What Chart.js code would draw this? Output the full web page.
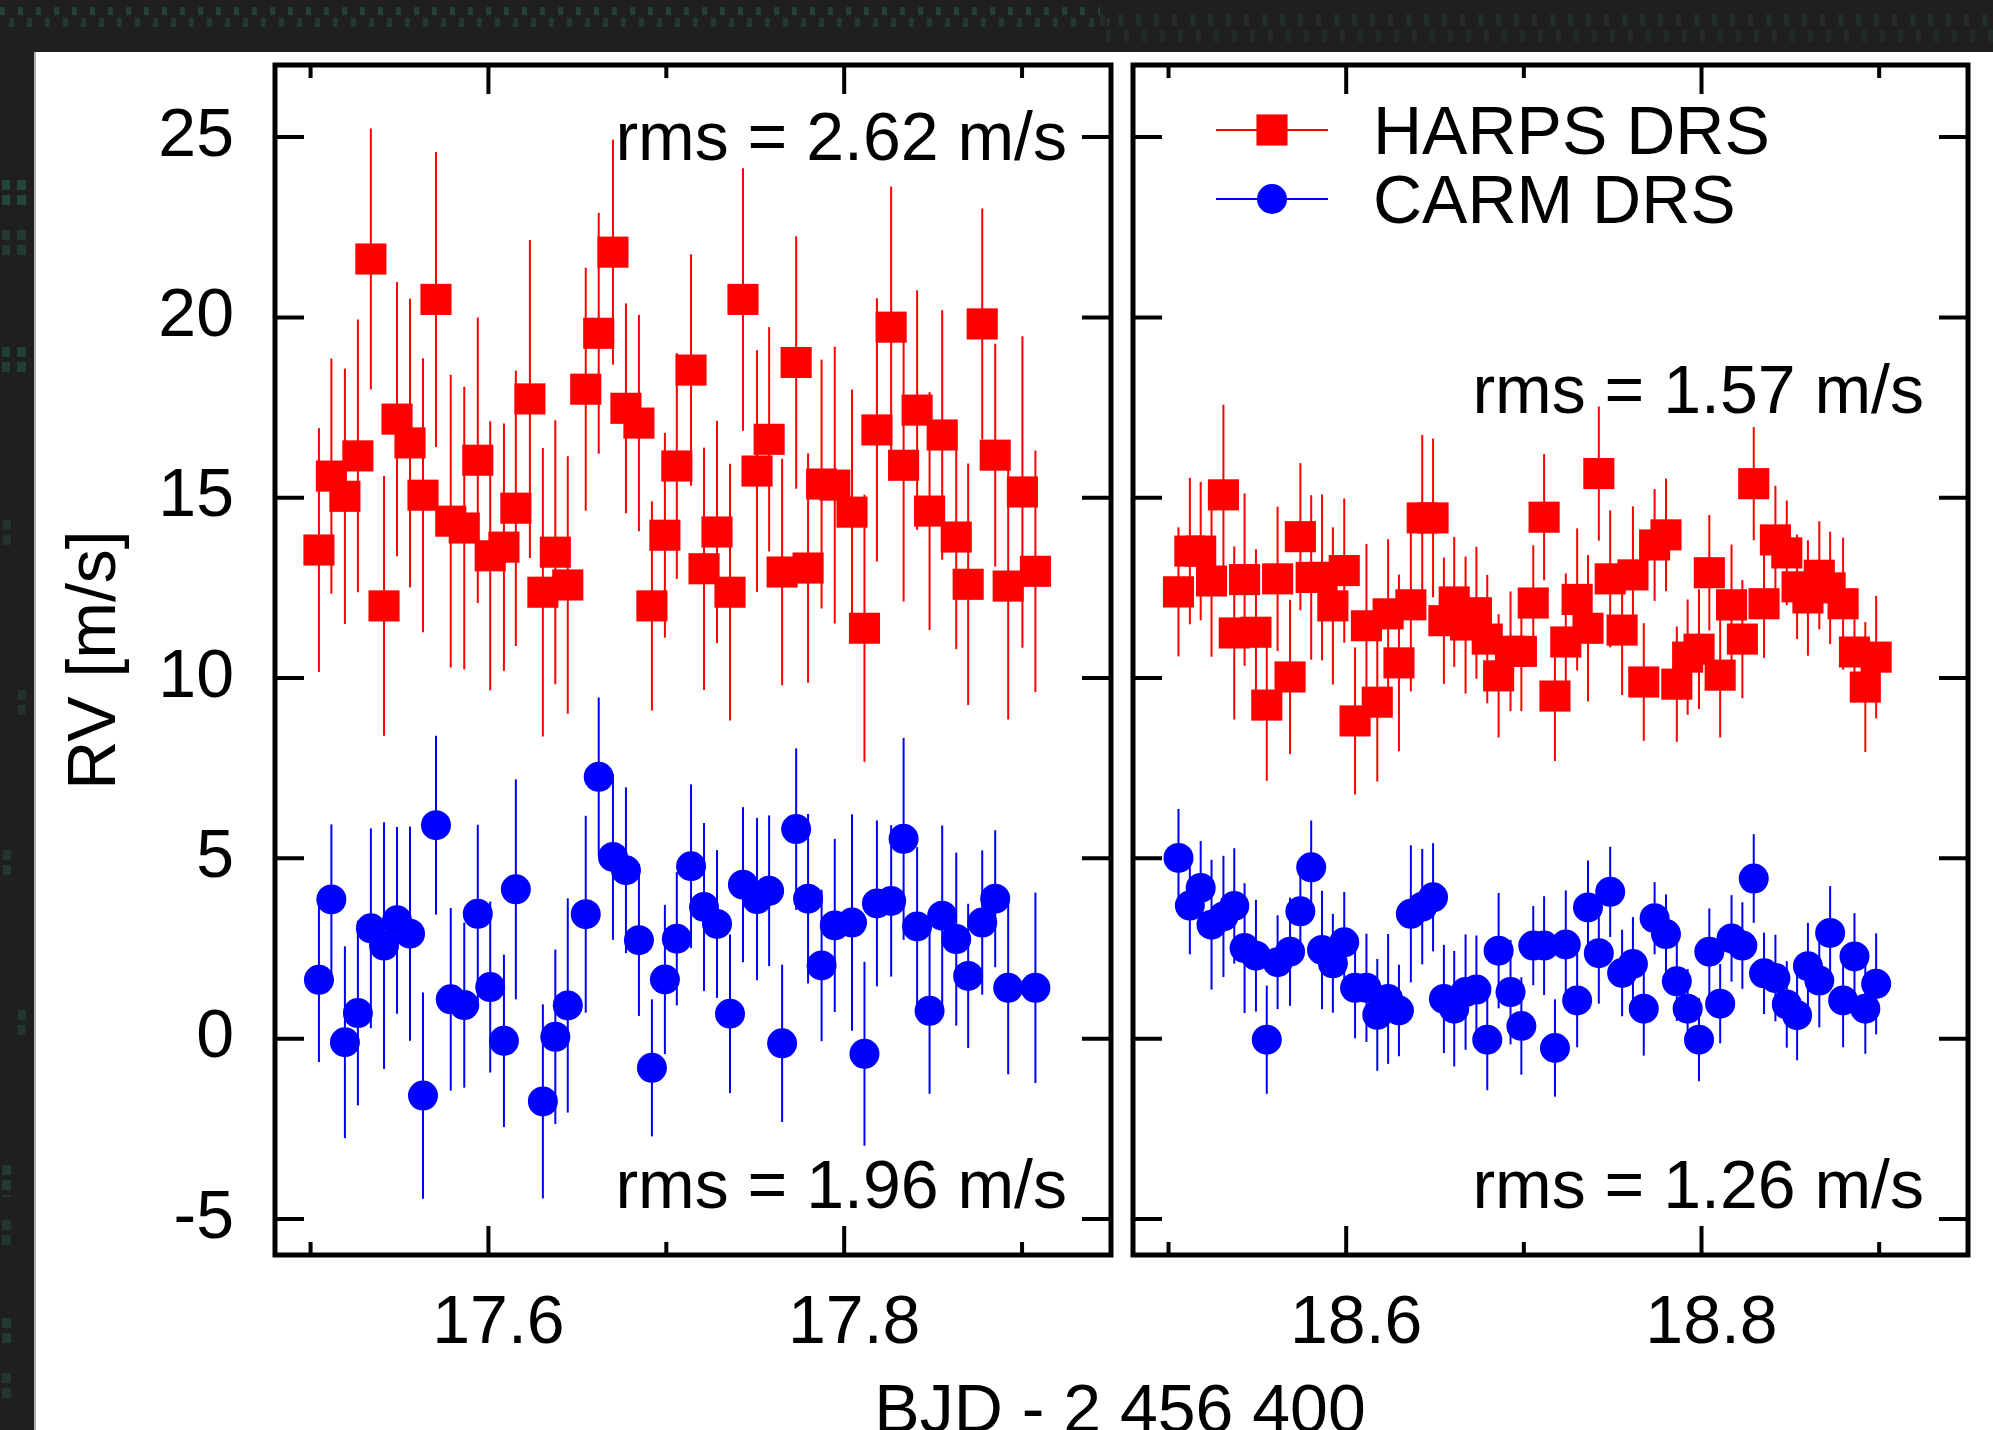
<!DOCTYPE html>
<html>
<head>
<meta charset="utf-8">
<title>RV HARPS vs CARM</title>
<script src="https://cdn.jsdelivr.net/npm/chart.js@4.4.1/dist/chart.umd.min.js"></script>
<style>
html, body { margin: 0; padding: 0; }
body { width: 1993px; height: 1430px; overflow: hidden; position: relative; background: #1f1f1f; font-family: "Liberation Sans", Arial, sans-serif; }
.rain { position: absolute; background: repeating-linear-gradient(90deg, rgba(40,108,80,.55) 0 5px, transparent 5px 18px); }
.rainv { position: absolute; background: repeating-linear-gradient(180deg, rgba(40,108,80,.5) 0 10px, transparent 10px 15px); }
#paper { position: absolute; left: 34px; top: 52px; right: 0; bottom: 0; background: #fff; border-left: 2px solid #b0b0b0; }
canvas { position: absolute; top: 52px; }
#left { left: 34px; }
#right { left: 1122px; }
#xtitle { position: absolute; left: 1120px; top: 1374px; transform: translateX(-50%); font-size: 68px; line-height: 68px; white-space: nowrap; color: #000; }
</style>
</head>
<body>
<div class="rain" style="left:0;top:7px;width:1100px;height:8px;opacity:.8"></div>
<div class="rain" style="left:9px;top:18px;width:1100px;height:9px;opacity:.6"></div>
<div class="rain" style="left:1100px;top:14px;width:893px;height:12px;opacity:.35"></div>
<div class="rain" style="left:1106px;top:30px;width:887px;height:12px;opacity:.3"></div>
<div class="rainv" style="left:2px;top:180px;width:8px;height:28px"></div>
<div class="rainv" style="left:17px;top:180px;width:9px;height:28px"></div>
<div class="rainv" style="left:2px;top:230px;width:8px;height:28px;opacity:.7"></div>
<div class="rainv" style="left:17px;top:230px;width:9px;height:28px;opacity:.7"></div>
<div class="rainv" style="left:2px;top:347px;width:8px;height:30px;opacity:.8"></div>
<div class="rainv" style="left:17px;top:347px;width:9px;height:30px;opacity:.8"></div>
<div class="rainv" style="left:3px;top:520px;width:8px;height:30px;opacity:.5"></div>
<div class="rainv" style="left:18px;top:690px;width:8px;height:30px;opacity:.5"></div>
<div class="rainv" style="left:3px;top:850px;width:8px;height:30px;opacity:.6"></div>
<div class="rainv" style="left:18px;top:1010px;width:8px;height:30px;opacity:.6"></div>
<div class="rainv" style="left:2px;top:1165px;width:9px;height:32px;opacity:.7"></div>
<div class="rainv" style="left:2px;top:1220px;width:9px;height:28px;opacity:.6"></div>
<div class="rainv" style="left:2px;top:1318px;width:9px;height:30px;opacity:.7"></div>
<div class="rainv" style="left:2px;top:1373px;width:9px;height:28px;opacity:.6"></div>
<div id="paper"></div>
<canvas id="left" width="1088" height="1378"></canvas>
<canvas id="right" width="871" height="1378"></canvas>
<div id="xtitle">BJD - 2 456 400</div>
<script>
var yTicks = [-5, 0, 5, 10, 15, 20, 25];

var xMajorLeft = [17.6, 17.8];
var xMinorLeft = [17.5, 17.7, 17.9];
var xMajorRight = [18.6, 18.8];
var xMinorRight = [18.5, 18.7, 18.9];

var tLeft = [17.5047, 17.5117, 17.5193, 17.5266, 17.5339, 17.5413, 17.5486, 17.5559, 17.5632, 17.5705,
  17.5788, 17.5864, 17.5940, 17.6010, 17.6087, 17.6154, 17.6233, 17.6306, 17.6376, 17.6446,
  17.6547, 17.6620, 17.6700, 17.6773, 17.6846, 17.6919, 17.6992, 17.7059, 17.7139, 17.7212,
  17.7285, 17.7358, 17.7431, 17.7510, 17.7578, 17.7651, 17.7730, 17.7797, 17.7873, 17.7947,
  17.8044, 17.8114, 17.8184, 17.8264, 17.8334, 17.8410, 17.8480, 17.8551, 17.8630, 17.8697,
  17.8776, 17.8849, 17.8922, 17.9002, 17.9075];

var harpsLeft = [13.55, 15.6, 15.04, 16.16, 21.62, 12.0, 17.18, 16.52, 15.07, 20.5,
  14.35, 14.16, 16.04, 13.39, 13.63, 14.71, 17.74, 12.38, 13.49, 12.58,
  18.01, 19.56, 21.81, 17.48, 17.07, 12.0, 13.96, 15.88, 18.54, 13.03,
  14.05, 12.38, 20.5, 15.74, 16.62, 12.94, 18.75, 13.05, 15.38, 15.35,
  14.6, 11.38, 16.88, 19.73, 15.9, 17.43, 14.63, 16.74, 13.91, 12.6,
  19.82, 16.18, 12.55, 15.16, 12.96];
var harpsErrLeft = [3.38, 3.26, 3.54, 3.78, 3.62, 3.6, 3.8, 4.0, 3.8, 4.09,
  4.06, 3.92, 3.96, 3.73, 3.43, 3.82, 4.41, 4.0, 3.66, 3.57,
  3.37, 3.34, 3.12, 2.91, 3.0, 2.9, 2.84, 3.13, 3.21, 3.36,
  3.08, 3.56, 3.64, 3.35, 3.11, 3.14, 3.5, 3.18, 3.45, 3.84,
  3.4, 3.7, 3.65, 3.9, 3.78, 3.32, 3.3, 3.46, 3.11, 3.35,
  3.2, 3.09, 3.7, 4.32, 3.35];

var carmLeft = [1.63, 3.86, -0.1, 0.71, 3.06, 2.58, 3.28, 2.91, -1.58, 5.92,
  1.09, 0.93, 3.46, 1.43, -0.06, 4.14, null, -1.74, 0.05, 0.92,
  3.45, 7.26, 5.04, 4.67, 2.73, -0.81, 1.64, 2.77, 4.78, 3.65,
  3.18, 0.69, 4.27, 3.87, 4.1, -0.13, 5.81, 3.88, 2.03, 3.14,
  3.22, -0.42, 3.75, 3.82, 5.54, 3.11, 0.77, 3.41, 2.76, 1.74,
  3.22, 3.88, 1.41, null, 1.41];
var carmErrLeft = [2.28, 2.08, 2.66, 2.56, 2.77, 3.42, 2.59, 2.97, 2.86, 2.48,
  2.53, 2.29, 2.47, 2.37, 2.39, 3.05, null, 2.69, 2.42, 2.97,
  2.73, 2.2, 2.3, 2.3, 2.1, 1.9, 2.07, 1.85, 2.27, 2.33,
  2.05, 2.2, 2.15, 2.25, 2.09, 2.18, 2.24, 2.35, 2.1, 2.4,
  3.0, 2.55, 2.3, 2.1, 2.8, 2.2, 2.3, 2.5, 2.4, 2.0,
  2.0, 1.9, 2.4, null, 2.64];

var tRight = [18.5056, 18.5120, 18.5181, 18.5242, 18.5309, 18.5370, 18.5428, 18.5492, 18.5553, 18.5614,
  18.5684, 18.5742, 18.5803, 18.5864, 18.5925, 18.5989, 18.6050, 18.6114, 18.6175, 18.6236,
  18.6297, 18.6364, 18.6428, 18.6489, 18.6550, 18.6608, 18.6672, 18.6733, 18.6794, 18.6858,
  18.6925, 18.6986, 18.7053, 18.7114, 18.7175, 18.7236, 18.7300, 18.7361, 18.7422, 18.7486,
  18.7553, 18.7614, 18.7675, 18.7736, 18.7800, 18.7861, 18.7922, 18.7986, 18.8044, 18.8105,
  18.8169, 18.8230, 18.8294, 18.8352, 18.8416, 18.8480, 18.8538, 18.8599, 18.8663, 18.8724,
  18.8797, 18.8861, 18.8922, 18.8983];

var harpsRight = [12.39, 13.52, 13.52, 12.69, 15.08, 11.25, 12.73, 11.27, 9.25, 12.75,
  10.03, 13.92, 12.79, 12.79, 12.0, 12.98, 8.81, 11.45, 9.33, 11.78,
  10.42, 12.03, 14.44, 14.44, 11.59, 12.11, 11.47, 11.81, 11.08, 10.06,
  10.74, 10.74, 12.08, 14.46, 9.5, 11.0, 12.18, 11.38, 15.67, 12.75,
  11.33, 12.86, 9.89, 13.69, 13.97, 9.83, 10.58, 10.8, 12.92, 10.08,
  12.03, 11.08, 15.39, 12.06, 13.83, 13.47, 12.53, 12.22, 12.85, 12.5,
  12.06, 10.72, 9.75, 10.58];
var harpsErrRight = [1.79, 2.03, 1.92, 2.1, 2.5, 2.4, 2.39, 2.3, 2.1, 2.0,
  2.14, 2.04, 2.28, 2.3, 2.18, 2.0, 2.04, 2.27, 2.2, 2.07,
  2.45, 2.4, 2.3, 2.2, 1.75, 1.8, 1.9, 1.83, 1.78, 1.71,
  1.66, 1.66, 1.6, 1.75, 1.8, 1.9, 1.97, 2.03, 1.86, 1.9,
  1.8, 1.9, 1.63, 1.55, 1.56, 1.6, 1.6, 1.66, 1.6, 1.73,
  1.67, 1.64, 1.57, 1.5, 1.5, 1.45, 1.45, 1.6, 1.5, 1.56,
  1.83, 1.4, 1.8, 1.7];

var carmRight = [5.01, 3.69, 4.18, 3.16, 3.39, 3.68, 2.51, 2.3, -0.03, 2.12,
  2.41, 3.53, 4.75, 2.46, 2.09, 2.67, 1.41, 1.41, 0.66, 1.1,
  0.78, 3.46, 3.66, 3.92, 1.1, 0.83, 1.29, 1.36, -0.03, 2.44,
  1.29, 0.35, 2.58, 2.58, -0.26, 2.61, 1.06, 3.64, 2.37, 4.07,
  1.82, 2.07, 0.83, 3.34, 2.9, 1.59, 0.83, -0.03, 2.41, 0.97,
  2.78, 2.58, 4.44, 1.81, 1.68, 0.95, 0.65, 2.01, 1.61, 2.93,
  1.06, 2.28, 0.83, 1.52];
var carmErrRight = [1.36, 1.35, 1.3, 1.8, 1.68, 1.6, 1.8, 1.55, 1.5, 1.3,
  1.5, 1.3, 1.3, 1.64, 1.37, 1.4, 1.4, 1.5, 1.55, 1.8,
  1.27, 1.9, 1.6, 1.5, 1.5, 1.6, 1.6, 1.5, 1.4, 1.6,
  1.45, 1.35, 1.1, 1.37, 1.35, 1.5, 1.3, 1.3, 1.4, 1.25,
  1.2, 1.3, 1.3, 1.0, 1.1, 1.1, 1.1, 1.15, 1.2, 1.1,
  1.2, 1.2, 1.23, 1.13, 1.2, 1.2, 1.25, 1.2, 1.3, 1.3,
  1.3, 1.2, 1.25, 1.4];

var rmsLeft = ['rms = 2.62 m/s', 'rms = 1.96 m/s'];
var rmsRight = ['rms = 1.57 m/s', 'rms = 1.26 m/s'];

var FONT = '"Liberation Sans", Arial, sans-serif';
var RED = '#ff0000';
var BLUE = '#0000ff';

function points(t, v, e) {
  var out = [];
  t.forEach(function (x, i) {
    if (v[i] !== null) out.push({x: x, y: v[i], e: e[i]});
  });
  return out;
}

// vertical error bars, behind the markers
var errorBars = {
  id: 'errorBars',
  beforeDatasetsDraw: function (chart) {
    var ctx = chart.ctx, ys = chart.scales.y;
    chart.data.datasets.forEach(function (ds, i) {
      var meta = chart.getDatasetMeta(i);
      ctx.save();
      ctx.strokeStyle = ds.borderColor;
      ctx.lineWidth = 2;
      meta.data.forEach(function (pt, j) {
        var d = ds.data[j];
        ctx.beginPath();
        ctx.moveTo(pt.x, ys.getPixelForValue(d.y - d.e));
        ctx.lineTo(pt.x, ys.getPixelForValue(d.y + d.e));
        ctx.stroke();
      });
      ctx.restore();
    });
  }
};

// box, inward ticks on all sides, rms notes and key
var frame = {
  id: 'frame',
  afterDraw: function (chart, args, o) {
    var ctx = chart.ctx, a = chart.chartArea, xs = chart.scales.x, ys = chart.scales.y;
    ctx.save();
    ctx.strokeStyle = '#000';
    ctx.lineWidth = 4;
    ctx.beginPath();
    yTicks.forEach(function (v) {
      var p = ys.getPixelForValue(v);
      ctx.moveTo(a.left, p); ctx.lineTo(a.left + 29, p);
      ctx.moveTo(a.right, p); ctx.lineTo(a.right - 29, p);
    });
    o.major.forEach(function (v) {
      var p = xs.getPixelForValue(v);
      ctx.moveTo(p, a.bottom); ctx.lineTo(p, a.bottom - 29);
      ctx.moveTo(p, a.top); ctx.lineTo(p, a.top + 29);
    });
    o.minor.forEach(function (v) {
      var p = xs.getPixelForValue(v);
      ctx.moveTo(p, a.bottom); ctx.lineTo(p, a.bottom - 13);
      ctx.moveTo(p, a.top); ctx.lineTo(p, a.top + 13);
    });
    ctx.stroke();
    ctx.lineWidth = 5;
    ctx.strokeRect(a.left, a.top, a.right - a.left, a.bottom - a.top);

    ctx.fillStyle = '#000';
    ctx.font = '68px ' + FONT;
    ctx.textAlign = 'right';
    ctx.textBaseline = 'alphabetic';
    ctx.fillText(o.rms[0], a.right - 44, a.top + o.rmsTopY);
    ctx.fillText(o.rms[1], a.right - 44, a.bottom - 47);

    if (o.key) {
      chart.data.datasets.forEach(function (ds, i) {
        var yy = a.top + 65 + i * 69;
        ctx.strokeStyle = ds.borderColor;
        ctx.lineWidth = 2;
        ctx.beginPath();
        ctx.moveTo(a.left + 83, yy);
        ctx.lineTo(a.left + 195, yy);
        ctx.stroke();
        ctx.fillStyle = ds.backgroundColor;
        Chart.helpers.drawPoint(ctx, {pointStyle: ds.pointStyle, radius: ds.pointRadius, rotation: 0, borderWidth: 0}, a.left + 139, yy);
        ctx.fillStyle = '#000';
        ctx.textAlign = 'left';
        ctx.fillText(ds.label, a.left + 240, yy + 24);
      });
    }
    ctx.restore();
  }
};

function noPad(s) {
  s.paddingTop = 0; s.paddingBottom = 0; s.paddingLeft = 0; s.paddingRight = 0;
}

function makePanel(id, t, harps, harpsErr, carm, carmErr, xMin, xMax, major, minor, side) {
  var left = side === 'left';
  return new Chart(document.getElementById(id), {
    type: 'scatter',
    data: {
      datasets: [{
        label: 'HARPS DRS',
        data: points(t, harps, harpsErr),
        pointStyle: 'rect',
        pointRadius: 22,
        pointBorderWidth: 0,
        backgroundColor: RED,
        borderColor: RED
      }, {
        label: 'CARM DRS',
        data: points(t, carm, carmErr),
        pointStyle: 'circle',
        pointRadius: 15,
        pointBorderWidth: 0,
        backgroundColor: BLUE,
        borderColor: BLUE
      }]
    },
    options: {
      responsive: false,
      animation: false,
      devicePixelRatio: 1,
      events: [],
      layout: {autoPadding: false, padding: left ? {left: 0, right: 11, top: 13, bottom: 0} : {left: 11, right: 25, top: 13, bottom: 0}},
      plugins: {
        legend: {display: false},
        tooltip: {enabled: false},
        frame: {
          major: major,
          minor: minor,
          rms: left ? rmsLeft : rmsRight,
          rmsTopY: left ? 95 : 348,
          key: !left
        }
      },
      scales: {
        x: {
          type: 'linear',
          min: xMin,
          max: xMax,
          grid: {display: false, drawTicks: false},
          border: {display: false},
          afterBuildTicks: function (s) { s.ticks = major.map(function (v) { return {value: v}; }); },
          afterFit: function (s) { s.height = 175; noPad(s); },
          ticks: {
            color: '#000',
            font: {family: FONT, size: 68},
            padding: 28,
            labelOffset: 10,
            maxRotation: 0,
            autoSkip: false,
            callback: function (v) { return v.toFixed(1); }
          }
        },
        y: {
          type: 'linear',
          min: -6,
          max: 27,
          grid: {display: false, drawTicks: false},
          border: {display: false},
          afterBuildTicks: function (s) { s.ticks = yTicks.map(function (v) { return {value: v}; }); },
          afterFit: function (s) { s.width = left ? 241 : 0; noPad(s); },
          ticks: {
            display: left,
            color: '#000',
            font: {family: FONT, size: 68},
            padding: 41,
            callback: function (v) { return String(v); }
          },
          title: {
            display: left,
            text: 'RV [m/s]',
            color: '#000',
            font: {family: FONT, size: 68},
            padding: {top: 21, bottom: 0}
          }
        }
      }
    },
    plugins: [errorBars, frame]
  });
}

makePanel('left', tLeft, harpsLeft, harpsErrLeft, carmLeft, carmErrLeft, 17.48, 17.95, xMajorLeft, xMinorLeft, 'left');
makePanel('right', tRight, harpsRight, harpsErrRight, carmRight, carmErrRight, 18.48, 18.95, xMajorRight, xMinorRight, 'right');
</script>
</body>
</html>
